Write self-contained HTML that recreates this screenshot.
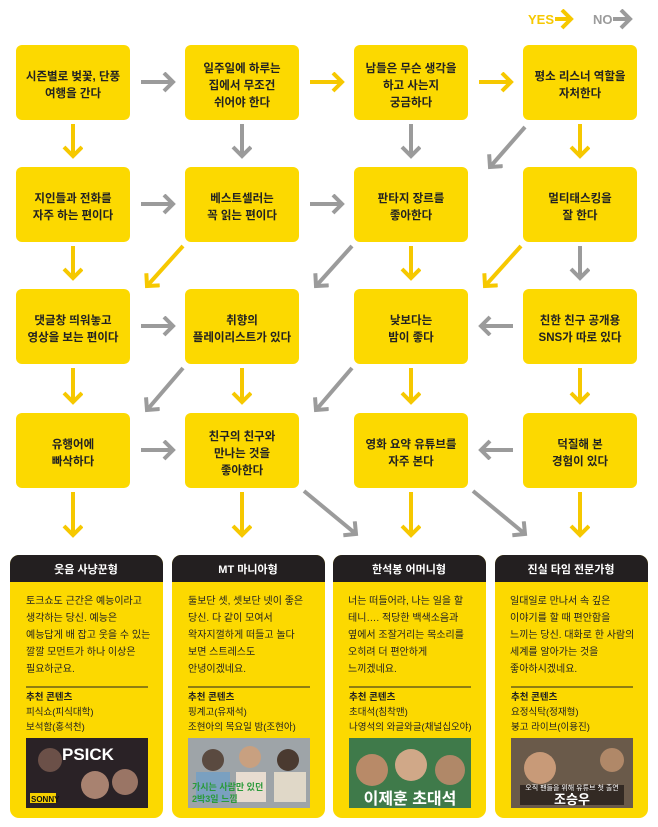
<!DOCTYPE html>
<html><head><meta charset="utf-8"><style>
html,body{margin:0;padding:0;background:#fff;}
svg{display:block;font-family:"Liberation Sans","Noto Sans CJK KR",sans-serif;}
.bx{fill:#fcd900;}
.bt{font-size:11.5px;font-weight:bold;fill:#222;text-anchor:middle;}
.y{stroke:#f6c800;stroke-width:4;fill:none;}
.g{stroke:#9b9b9b;stroke-width:4;fill:none;}
.ct{font-size:10px;fill:#222;}
.ch{font-size:11px;font-weight:bold;fill:#fff;text-anchor:middle;}
</style></head><body>
<svg width="658" height="827" viewBox="0 0 658 827">
<defs>
<marker id="my" markerUnits="userSpaceOnUse" markerWidth="18" markerHeight="22" refX="11" refY="10" orient="auto"><path d="M2,1 L11,10 L2,19" stroke="#f6c800" stroke-width="4" fill="none"/></marker>
<marker id="mg" markerUnits="userSpaceOnUse" markerWidth="18" markerHeight="22" refX="11" refY="10" orient="auto"><path d="M2,1 L11,10 L2,19" stroke="#9b9b9b" stroke-width="4" fill="none"/></marker>
</defs>
<!-- legend -->
<text x="528" y="24" font-size="13" font-weight="bold" fill="#f6c800">YES</text>
<line x1="555" y1="19" x2="571" y2="19" class="y" marker-end="url(#my)"/>
<text x="593" y="24" font-size="13" font-weight="bold" fill="#9b9b9b">NO</text>
<line x1="613" y1="19" x2="630" y2="19" class="g" marker-end="url(#mg)"/>

<g>
<rect class="bx" x="16" y="45" width="114" height="75" rx="6"/>
<rect class="bx" x="185" y="45" width="114" height="75" rx="6"/>
<rect class="bx" x="354" y="45" width="114" height="75" rx="6"/>
<rect class="bx" x="523" y="45" width="114" height="75" rx="6"/>
<rect class="bx" x="16" y="167" width="114" height="75" rx="6"/>
<rect class="bx" x="185" y="167" width="114" height="75" rx="6"/>
<rect class="bx" x="354" y="167" width="114" height="75" rx="6"/>
<rect class="bx" x="523" y="167" width="114" height="75" rx="6"/>
<rect class="bx" x="16" y="289" width="114" height="75" rx="6"/>
<rect class="bx" x="185" y="289" width="114" height="75" rx="6"/>
<rect class="bx" x="354" y="289" width="114" height="75" rx="6"/>
<rect class="bx" x="523" y="289" width="114" height="75" rx="6"/>
<rect class="bx" x="16" y="413" width="114" height="75" rx="6"/>
<rect class="bx" x="185" y="413" width="114" height="75" rx="6"/>
<rect class="bx" x="354" y="413" width="114" height="75" rx="6"/>
<rect class="bx" x="523" y="413" width="114" height="75" rx="6"/>
</g>
<g class="bt">
<text x="73" y="80">시즌별로 벚꽃, 단풍</text><text x="73" y="97">여행을 간다</text>
<text x="242" y="72">일주일에 하루는</text><text x="242" y="89">집에서 무조건</text><text x="242" y="106">쉬어야 한다</text>
<text x="411" y="72">남들은 무슨 생각을</text><text x="411" y="89">하고 사는지</text><text x="411" y="106">궁금하다</text>
<text x="580" y="80">평소 리스너 역할을</text><text x="580" y="97">자처한다</text>
<text x="73" y="202">지인들과 전화를</text><text x="73" y="219">자주 하는 편이다</text>
<text x="242" y="202">베스트셀러는</text><text x="242" y="219">꼭 읽는 편이다</text>
<text x="411" y="202">판타지 장르를</text><text x="411" y="219">좋아한다</text>
<text x="580" y="202">멀티태스킹을</text><text x="580" y="219">잘 한다</text>
<text x="73" y="324">댓글창 띄워놓고</text><text x="73" y="341">영상을 보는 편이다</text>
<text x="242" y="324">취향의</text><text x="242" y="341">플레이리스트가 있다</text>
<text x="411" y="324">낮보다는</text><text x="411" y="341">밤이 좋다</text>
<text x="580" y="324">친한 친구 공개용</text><text x="580" y="341">SNS가 따로 있다</text>
<text x="73" y="448">유행어에</text><text x="73" y="465">빠삭하다</text>
<text x="242" y="440">친구의 친구와</text><text x="242" y="457">만나는 것을</text><text x="242" y="474">좋아한다</text>
<text x="411" y="448">영화 요약 유튜브를</text><text x="411" y="465">자주 본다</text>
<text x="580" y="448">덕질해 본</text><text x="580" y="465">경험이 있다</text>
</g>

<line x1="141" y1="82" x2="173" y2="82" class="g" marker-end="url(#mg)"/>
<line x1="310" y1="82" x2="342" y2="82" class="y" marker-end="url(#my)"/>
<line x1="479" y1="82" x2="511" y2="82" class="y" marker-end="url(#my)"/>
<line x1="73" y1="124" x2="73" y2="156" class="y" marker-end="url(#my)"/>
<line x1="242" y1="124" x2="242" y2="156" class="g" marker-end="url(#mg)"/>
<line x1="411" y1="124" x2="411" y2="156" class="g" marker-end="url(#mg)"/>
<line x1="580" y1="124" x2="580" y2="156" class="y" marker-end="url(#my)"/>
<line x1="525" y1="127" x2="490" y2="167" class="g" marker-end="url(#mg)"/>
<line x1="141" y1="204" x2="173" y2="204" class="g" marker-end="url(#mg)"/>
<line x1="310" y1="204" x2="342" y2="204" class="g" marker-end="url(#mg)"/>
<line x1="73" y1="246" x2="73" y2="278" class="y" marker-end="url(#my)"/>
<line x1="411" y1="246" x2="411" y2="278" class="y" marker-end="url(#my)"/>
<line x1="580" y1="246" x2="580" y2="278" class="g" marker-end="url(#mg)"/>
<line x1="183" y1="246" x2="147" y2="286" class="y" marker-end="url(#my)"/>
<line x1="352" y1="246" x2="316" y2="286" class="g" marker-end="url(#mg)"/>
<line x1="521" y1="246" x2="485" y2="286" class="y" marker-end="url(#my)"/>
<line x1="141" y1="326" x2="173" y2="326" class="g" marker-end="url(#mg)"/>
<line x1="513" y1="326" x2="481" y2="326" class="g" marker-end="url(#mg)"/>
<line x1="73" y1="368" x2="73" y2="402" class="y" marker-end="url(#my)"/>
<line x1="242" y1="368" x2="242" y2="402" class="y" marker-end="url(#my)"/>
<line x1="411" y1="368" x2="411" y2="402" class="y" marker-end="url(#my)"/>
<line x1="580" y1="368" x2="580" y2="402" class="y" marker-end="url(#my)"/>
<line x1="183" y1="368" x2="147" y2="410" class="g" marker-end="url(#mg)"/>
<line x1="352" y1="368" x2="316" y2="410" class="g" marker-end="url(#mg)"/>
<line x1="141" y1="450" x2="173" y2="450" class="g" marker-end="url(#mg)"/>
<line x1="513" y1="450" x2="481" y2="450" class="g" marker-end="url(#mg)"/>
<line x1="73" y1="492" x2="73" y2="535" class="y" marker-end="url(#my)"/>
<line x1="242" y1="492" x2="242" y2="535" class="y" marker-end="url(#my)"/>
<line x1="411" y1="492" x2="411" y2="535" class="y" marker-end="url(#my)"/>
<line x1="580" y1="492" x2="580" y2="535" class="y" marker-end="url(#my)"/>
<line x1="304" y1="491" x2="356" y2="534" class="g" marker-end="url(#mg)"/>
<line x1="473" y1="491" x2="525" y2="534" class="g" marker-end="url(#mg)"/>

<g>
<rect x="10" y="555" width="153" height="263" rx="9" fill="#fcd900"/>
<path d="M10,582 V564 a9,9 0 0 1 9,-9 H154 a9,9 0 0 1 9,9 V582 Z" fill="#231f20"/>
<rect x="172" y="555" width="153" height="263" rx="9" fill="#fcd900"/>
<path d="M172,582 V564 a9,9 0 0 1 9,-9 H316 a9,9 0 0 1 9,9 V582 Z" fill="#231f20"/>
<rect x="333" y="555" width="153" height="263" rx="9" fill="#fcd900"/>
<path d="M333,582 V564 a9,9 0 0 1 9,-9 H477 a9,9 0 0 1 9,9 V582 Z" fill="#231f20"/>
<rect x="495" y="555" width="153" height="263" rx="9" fill="#fcd900"/>
<path d="M495,582 V564 a9,9 0 0 1 9,-9 H639 a9,9 0 0 1 9,9 V582 Z" fill="#231f20"/>
</g>
<text class="ch" x="86" y="573">웃음 사냥꾼형</text>
<text class="ch" x="248" y="573">MT 마니아형</text>
<text class="ch" x="409" y="573">한석봉 어머니형</text>
<text class="ch" x="571" y="573">진실 타임 전문가형</text>

<g class="ct">
<text x="26" y="604">토크쇼도 근간은 예능이라고</text>
<text x="26" y="621">생각하는 당신. 예능은</text>
<text x="26" y="638">예능답게 배 잡고 웃을 수 있는</text>
<text x="26" y="655">깔깔 모먼트가 하나 이상은</text>
<text x="26" y="672">필요하군요.</text>
<text x="188" y="604">둘보단 셋, 셋보단 넷이 좋은</text>
<text x="188" y="621">당신. 다 같이 모여서</text>
<text x="188" y="638">왁자지껄하게 떠들고 놀다</text>
<text x="188" y="655">보면 스트레스도</text>
<text x="188" y="672">안녕이겠네요.</text>
<text x="348" y="604">너는 떠들어라, 나는 일을 할</text>
<text x="348" y="621">테니…. 적당한 백색소음과</text>
<text x="348" y="638">옆에서 조잘거리는 목소리를</text>
<text x="348" y="655">오히려 더 편안하게</text>
<text x="348" y="672">느끼겠네요.</text>
<text x="510" y="604">일대일로 만나서 속 깊은</text>
<text x="510" y="621">이야기를 할 때 편안함을</text>
<text x="510" y="638">느끼는 당신. 대화로 한 사람의</text>
<text x="510" y="655">세계를 알아가는 것을</text>
<text x="510" y="672">좋아하시겠네요.</text>
</g>
<g stroke="#222" stroke-width="1">
<line x1="26" y1="687" x2="148" y2="687"/><line x1="188" y1="687" x2="310" y2="687"/>
<line x1="349" y1="687" x2="471" y2="687"/><line x1="511" y1="687" x2="633" y2="687"/>
</g>
<g font-size="9.5" fill="#222">
<text x="26" y="700" font-weight="bold">추천 콘텐츠</text><text x="26" y="715">피식쇼(피식대학)</text><text x="26" y="730">보석함(홍석천)</text>
<text x="188" y="700" font-weight="bold">추천 콘텐츠</text><text x="188" y="715">핑계고(유재석)</text><text x="188" y="730">조현아의 목요일 밤(조현아)</text>
<text x="349" y="700" font-weight="bold">추천 콘텐츠</text><text x="349" y="715">초대석(침착맨)</text><text x="349" y="730">나영석의 와글와글(채널십오야)</text>
<text x="511" y="700" font-weight="bold">추천 콘텐츠</text><text x="511" y="715">요정식탁(정재형)</text><text x="511" y="730">붕고 라이브(이용진)</text>
</g>
<rect x="26" y="738" width="122" height="70" fill="#2a2226"/>
<text x="62" y="760" font-size="17" font-weight="bold" fill="#fff">PSICK</text>
<circle cx="95" cy="785" r="14" fill="#a88270"/><circle cx="125" cy="782" r="13" fill="#9a7565"/><circle cx="50" cy="760" r="12" fill="#6b5048"/>
<rect x="30" y="793" width="26" height="10" fill="#f5d000"/><text x="31" y="802" font-size="8" font-weight="bold" fill="#111">SONNY</text>
<rect x="188" y="738" width="122" height="70" fill="#9ea4a8"/>
<circle cx="213" cy="760" r="11" fill="#5a4a40"/><circle cx="250" cy="757" r="11" fill="#c8a080"/><circle cx="288" cy="760" r="11" fill="#4a3a30"/>
<rect x="196" y="772" width="34" height="30" fill="#7aa0c0"/><rect x="236" y="772" width="30" height="30" fill="#e8dcd0"/><rect x="274" y="772" width="32" height="30" fill="#e0d8c8"/>
<text x="192" y="790" font-size="9" font-weight="bold" fill="#2a9a3a">가시는 사람만 있던</text><text x="192" y="802" font-size="9" font-weight="bold" fill="#2a9a3a">2박3일 느낌</text>
<rect x="349" y="738" width="122" height="70" fill="#3f7a4a"/>
<circle cx="372" cy="770" r="16" fill="#b88a68"/><circle cx="411" cy="765" r="16" fill="#d0a888"/><circle cx="450" cy="770" r="15" fill="#b08868"/>
<text x="410" y="804" font-size="16" font-weight="bold" fill="#fff" text-anchor="middle">이제훈 초대석</text>
<rect x="511" y="738" width="122" height="70" fill="#6a5a4a"/>
<circle cx="540" cy="768" r="16" fill="#c89a78"/><circle cx="612" cy="760" r="12" fill="#b08868"/>
<rect x="520" y="785" width="104" height="20" fill="#332a24"/>
<text x="572" y="790" font-size="7" fill="#fff" text-anchor="middle">오직 팬들을 위해 유튜브 첫 출연</text>
<text x="572" y="804" font-size="13" font-weight="bold" fill="#fff" text-anchor="middle">조승우</text>
</svg>
</body></html>
